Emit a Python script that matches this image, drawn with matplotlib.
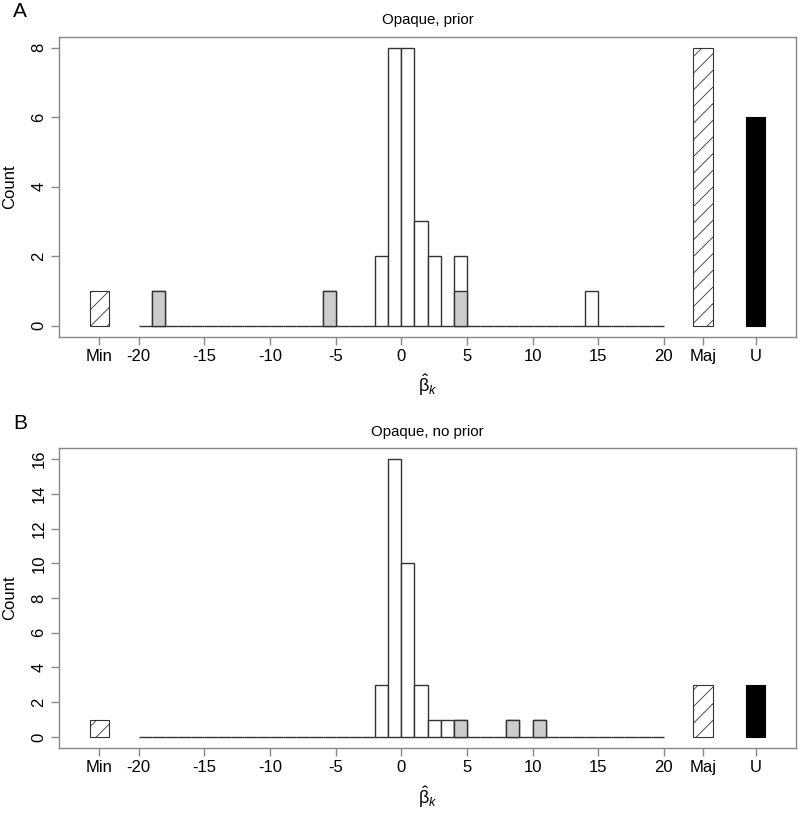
import matplotlib
matplotlib.use('Agg')
import matplotlib.pyplot as plt
import numpy as np

plt.rcParams['font.family'] = ['Liberation Sans', 'DejaVu Sans']
plt.rcParams['mathtext.fontset'] = 'custom'
plt.rcParams['mathtext.rm'] = 'Liberation Sans'
plt.rcParams['mathtext.it'] = 'Liberation Sans:italic'
plt.rcParams['hatch.linewidth'] = 0.6

# histogram bins run from -20 to 20 with unit width
bin_edges = np.arange(-20, 21)

# panel A: Opaque, prior  (bin left edge -> count)
a_bins = [-19, -6, -2, -1, 0, 1, 2, 4, 14]
a_counts = [1, 1, 2, 8, 8, 3, 2, 2, 1]
a_gray_bins = [-19, -6, 4]
a_gray_counts = [1, 1, 1]
a_min, a_maj, a_u = 1, 8, 6

# panel B: Opaque, no prior
b_bins = [-2, -1, 0, 1, 2, 3, 4, 8, 10]
b_counts = [3, 16, 10, 3, 1, 1, 1, 1, 1]
b_gray_bins = [4, 8, 10]
b_gray_counts = [1, 1, 1]
b_min, b_maj, b_u = 1, 3, 3

extra_pos = {'Min': -23, 'Maj': 23, 'U': 27}
xticks = [-20, -15, -10, -5, 0, 5, 10, 15, 20]

spine_col = '#888888'
edge_col = '#333333'


def full_counts(bins, counts):
    c = np.zeros(len(bin_edges) - 1)
    for b, n in zip(bins, counts):
        c[b + 20] = n
    return c


def draw_panel(ax, bins, counts, gbins, gcounts, nmin, nmaj, nu, title, ymax, letter):
    c = full_counts(bins, counts)
    g = full_counts(gbins, gcounts)
    ax.bar(bin_edges[:-1], c, width=1, align='edge', facecolor='white',
           edgecolor=edge_col, linewidth=1.0, zorder=2)
    mask = g > 0
    ax.bar(bin_edges[:-1][mask], g[mask], width=1, align='edge', facecolor='#cccccc',
           edgecolor=edge_col, linewidth=1.0, zorder=3)
    ax.bar([extra_pos['Min'], extra_pos['Maj']], [nmin, nmaj], width=1.5,
           facecolor='white', edgecolor=edge_col, hatch='//', linewidth=0.8, zorder=2)
    ax.bar([extra_pos['U']], [nu], width=1.5, facecolor='black',
           edgecolor='black', linewidth=0.8, zorder=2)

    ax.set_xlim(-26.08, 30.08)
    ax.set_ylim(-0.04 * ymax, 1.04 * ymax)
    ax.set_xticks([extra_pos['Min']] + xticks + [extra_pos['Maj'], extra_pos['U']])
    ax.set_xticklabels(['Min'] + [str(t) for t in xticks] + ['Maj', 'U'])
    ax.set_yticks(np.arange(0, ymax + 1, 2))
    for lab in ax.get_yticklabels():
        lab.set_rotation(90)
        lab.set_va('center')
    for s in ax.spines.values():
        s.set_color(spine_col)
        s.set_linewidth(1.0)
    ax.tick_params(direction='out', length=6, width=1.0, color=spine_col,
                   labelsize=12, pad=3)
    ax.set_ylabel('Count', fontsize=12, labelpad=10)
    ax.set_xlabel(r'$\hat{\mathrm{\beta}}_k$', fontsize=13, labelpad=6)
    ax.set_title(title, fontsize=10.8, pad=9)
    ax.text(-0.053, 1.083, letter, transform=ax.transAxes, fontsize=15,
            ha='center', va='center')


fig = plt.figure(figsize=(8, 8.14), dpi=100)
ax1 = fig.add_axes([0.07375, 0.5864, 0.9213, 0.3685])
ax2 = fig.add_axes([0.07375, 0.0811, 0.9213, 0.3685])

draw_panel(ax1, a_bins, a_counts, a_gray_bins, a_gray_counts, a_min, a_maj, a_u,
           'Opaque, prior', 8, 'A')
draw_panel(ax2, b_bins, b_counts, b_gray_bins, b_gray_counts, b_min, b_maj, b_u,
           'Opaque, no prior', 16, 'B')

fig.savefig('out.png', dpi=100)
